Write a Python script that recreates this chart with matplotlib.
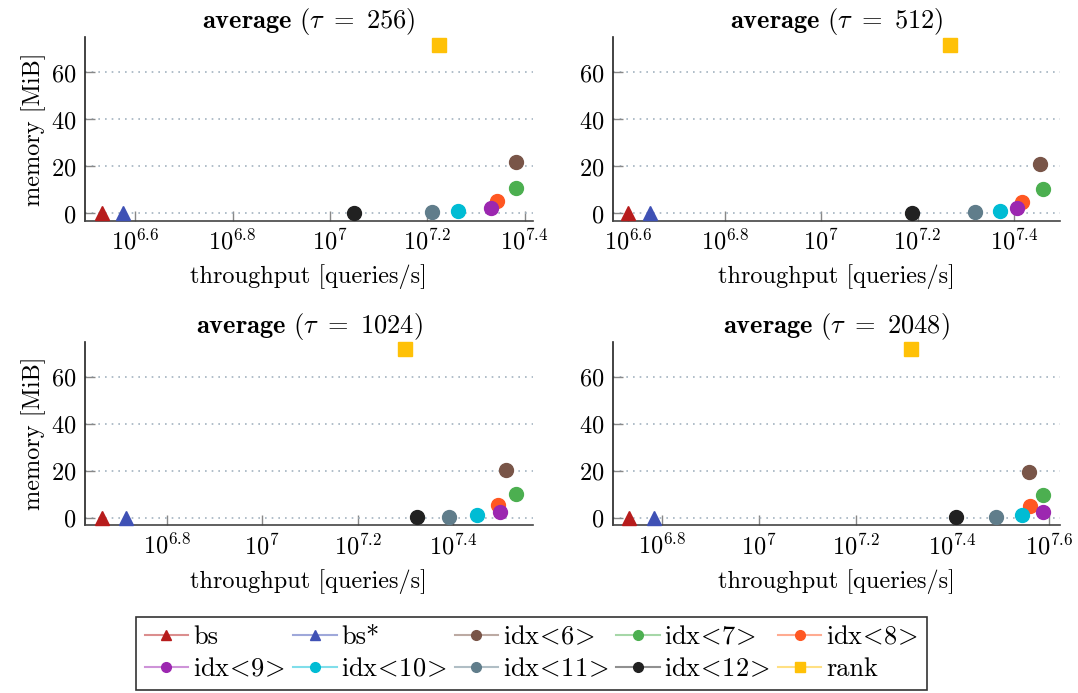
#!/usr/bin/env python
import numpy as np
import matplotlib
matplotlib.use("Agg")
import matplotlib.pyplot as plt
from matplotlib.ticker import FixedLocator, FuncFormatter, NullLocator
from matplotlib.colors import to_rgb

plt.rcParams['font.family'] = 'serif'
plt.rcParams['font.serif'] = ['cmr10']
plt.rcParams['mathtext.fontset'] = 'cm'
plt.rcParams['axes.formatter.use_mathtext'] = True

FS = 17.5

# series names, colours and markers
names = ["bs", "bs*", r"idx$\!<\!$6$\!>$", r"idx$\!<\!$7$\!>$", r"idx$\!<\!$8$\!>$",
         r"idx$\!<\!$9$\!>$", r"idx$\!<\!$10$\!>$", r"idx$\!<\!$11$\!>$",
         r"idx$\!<\!$12$\!>$", "rank"]
colors = ["#B71C1C", "#3F51B5", "#795548", "#4CAF50", "#FF5722",
          "#9C27B0", "#00BCD4", "#607D8B", "#212121", "#FFC107"]
markers = ["^", "^", "o", "o", "o", "o", "o", "o", "o", "s"]

taus = [256, 512, 1024, 2048]

# throughput in million queries/s, one list per tau, same order as names
tp_256 = [3.40, 3.75, 24.07, 24.07, 22.0, 21.4, 18.3, 16.2, 11.22, 16.75]
tp_512 = [3.98, 4.42, 28.4, 28.9, 26.1, 25.44, 23.5, 20.84, 15.45, 18.5]
tp_1024 = [4.61, 5.18, 32.4, 34.0, 31.2, 31.5, 28.2, 24.6, 21.1, 19.9]
tp_2048 = [5.38, 6.07, 36.1, 38.6, 36.4, 38.7, 34.9, 30.9, 25.5, 20.6]

# memory in MiB
mem_256 = [0.1, 0.1, 22.0, 10.8, 5.4, 2.5, 1.1, 0.5, 0.2, 71.7]
mem_512 = [0.1, 0.1, 21.0, 10.3, 5.0, 2.4, 1.1, 0.5, 0.2, 71.7]
mem_1024 = [0.1, 0.1, 20.3, 10.1, 5.4, 2.6, 1.1, 0.5, 0.2, 71.8]
mem_2048 = [0.1, 0.1, 19.6, 9.7, 4.8, 2.5, 1.1, 0.5, 0.2, 71.8]

throughputs = [tp_256, tp_512, tp_1024, tp_2048]
memories = [mem_256, mem_512, mem_1024, mem_2048]

# x ticks (log10 exponents) and x limits per panel
xticks = [[6.6, 6.8, 7.0, 7.2, 7.4],
          [6.6, 6.8, 7.0, 7.2, 7.4],
          [6.8, 7.0, 7.2, 7.4],
          [6.8, 7.0, 7.2, 7.4, 7.6]]
xlims = [(6.497, 7.4164), (6.5676, 7.4963), (6.629, 7.5662), (6.6975, 7.623)]

fig = plt.figure(figsize=(10.78, 6.93), dpi=100)
boxes = [[0.0789, 0.6815, 0.4153, 0.2651],
         [0.5684, 0.6815, 0.4153, 0.2651],
         [0.0789, 0.2424, 0.4153, 0.2645],
         [0.5684, 0.2424, 0.4153, 0.2645]]


def light(c, f=0.5):
    r, g, b = to_rgb(c)
    return (1 - f + f * r, 1 - f + f * g, 1 - f + f * b)


def fmt(v, pos):
    e = np.log10(v)
    return r"$10^{%s}$" % ("%g" % round(e, 1))


for k in range(4):
    ax = fig.add_axes(boxes[k])
    for i in range(len(names)):
        ax.plot([throughputs[k][i] * 1e6], [memories[k][i]],
                color=light(colors[i]), lw=1.5, marker=markers[i],
                ms=10, mfc=colors[i], mec=colors[i],
                label=names[i], zorder=3, clip_on=False)
    ax.set_xscale("log")
    ax.set_xlim(10 ** xlims[k][0], 10 ** xlims[k][1])
    ax.set_ylim(-3.1, 75.1)
    ax.xaxis.set_major_locator(FixedLocator([10 ** t for t in xticks[k]]))
    ax.xaxis.set_major_formatter(FuncFormatter(fmt))
    ax.xaxis.set_minor_locator(NullLocator())
    ax.set_yticks([0, 20, 40, 60])
    ax.grid(axis="y", color="#a3b3c0", linestyle=(0, (1, 3)), lw=1.2)
    ax.set_axisbelow(True)
    for s in ["top", "right"]:
        ax.spines[s].set_visible(False)
    ax.spines["left"].set_color("#222222")
    ax.spines["bottom"].set_color("#444444")
    ax.spines["left"].set_linewidth(1.2)
    ax.spines["bottom"].set_linewidth(1.2)
    ax.tick_params(direction="in", length=7, width=1, color="#888888",
                   labelsize=FS, pad=6)
    ax.set_title(r"$\mathbf{average}$ ($\tau\ =\ %d$)" % taus[k],
                 fontsize=19, pad=3)
    ax.set_xlabel("throughput [queries/s]", fontsize=FS, labelpad=7)
    if k % 2 == 0:
        ax.set_ylabel("memory [MiB]", fontsize=FS, labelpad=4)
    if k == 0:
        handles, labels = ax.get_legend_handles_labels()

# matplotlib fills legend columns first; reorder so rows read left to right
order = [0, 5, 1, 6, 2, 7, 3, 8, 4, 9]
leg = fig.legend([handles[i] for i in order], [labels[i] for i in order],
                 loc="upper center", ncol=5,
                 bbox_to_anchor=(0.493, 0.110), borderaxespad=0, fontsize=19,
                 frameon=True, fancybox=False, edgecolor="black",
                 handlelength=1.65, columnspacing=0.3, handletextpad=0.18,
                 borderpad=0.32, labelspacing=0.33)
leg.get_frame().set_linewidth(1.2)
for h in leg.legend_handles:
    h.set_markersize(7)

fig.savefig("out.png", dpi=100)
